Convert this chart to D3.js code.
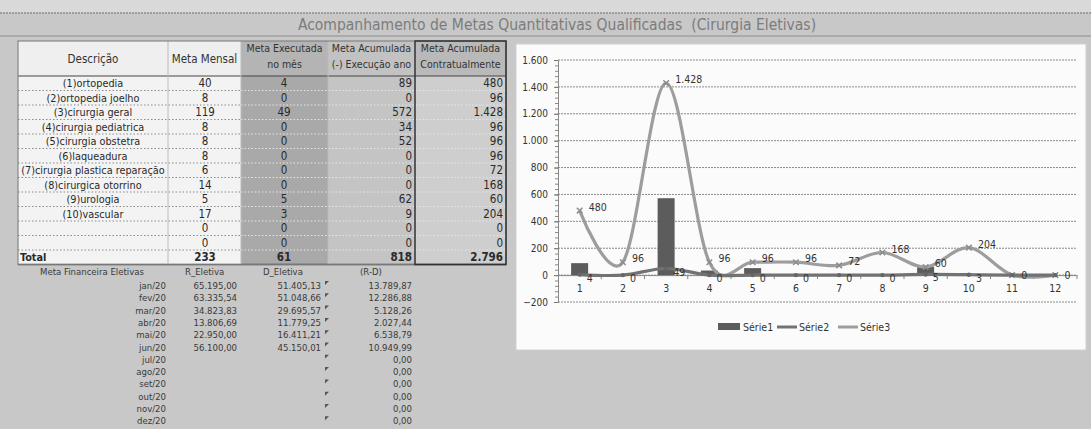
<!DOCTYPE html>
<html>
<head>
<meta charset="utf-8">
<script src="https://cdn.jsdelivr.net/npm/d3@7"></script>
<style>
  body { margin: 0; background: #c9c9c9; }
  svg { display: block; font-family: "DejaVu Sans Condensed", "Liberation Sans Narrow", sans-serif; }
</style>
</head>
<body>
<div id="my_dataviz"></div>
<script>
// table rows (cirurgias eletivas)
var descricao = ["(1)ortopedia", "(2)ortopedia joelho", "(3)cirurgia geral", "(4)cirurgia pediatrica",
  "(5)cirurgia obstetra", "(6)laqueadura", "(7)cirurgia plastica reparação", "(8)cirurgica otorrino",
  "(9)urologia", "(10)vascular", "", ""];
var metaMensal     = [40, 8, 119, 8, 8, 8, 6, 14, 5, 17, 0, 0];
var metaExecutada  = [4, 0, 49, 0, 0, 0, 0, 0, 5, 3, 0, 0];
var metaAcumExec   = [89, 0, 572, 34, 52, 0, 0, 0, 62, 9, 0, 0];
var metaContratual = [480, 96, 1428, 96, 96, 96, 72, 168, 60, 204, 0, 0];

// financial block
var meses     = ["jan/20", "fev/20", "mar/20", "abr/20", "mai/20", "jun/20",
                 "jul/20", "ago/20", "set/20", "out/20", "nov/20", "dez/20"];
var rEletiva  = [65195.00, 63335.54, 34823.83, 13806.69, 22950.00, 56100.00];
var dEletiva  = [51405.13, 51048.66, 29695.57, 11779.25, 16411.21, 45150.01];
var rMenosD   = [13789.87, 12286.88, 5128.26, 2027.44, 6538.79, 10949.99, 0, 0, 0, 0, 0, 0];

// chart
var categorias = d3.range(1, 13);
var yTicks = [-200, 0, 200, 400, 600, 800, 1000, 1200, 1400, 1600];
var legendas = ["Série1", "Série2", "Série3"];

var ptBR = d3.formatLocale({decimal: ",", thousands: ".", grouping: [3], currency: ["R$", ""]});
var fInt = ptBR.format(",d"), fDec = ptBR.format(",.2f");

var W = 1091, H = 429;
var svg = d3.select("#my_dataviz").append("svg")
  .attr("width", W).attr("height", H);

svg.append("rect").attr("width", W).attr("height", H).attr("fill", "#c8c8c8");
svg.append("rect").attr("width", W).attr("height", 13).attr("fill", "#d9d9d9");
svg.append("line").attr("x1", 0).attr("x2", W).attr("y1", 13).attr("y2", 13)
  .attr("stroke", "#8c8c8c").attr("stroke-width", 1.5).attr("stroke-dasharray", "2,1");
svg.append("line").attr("x1", 0).attr("x2", W).attr("y1", 36).attr("y2", 36)
  .attr("stroke", "#a0a0a0").attr("stroke-width", 1.5);

svg.append("text")
  .attr("x", 557).attr("y", 30)
  .attr("text-anchor", "middle")
  .attr("font-size", 15.5).attr("fill", "#7c7c7c")
  .attr("xml:space", "preserve")
  .text("Acompanhamento de Metas Quantitativas Qualificadas  (Cirurgia Eletivas)");

// ---------- table ----------
var cols = [
  {x: 18,  w: 150, fill: "#f3f3f3", head: "#efefef", h: ["Descrição"]},
  {x: 168, w: 73,  fill: "#f3f3f3", head: "#efefef", h: ["Meta Mensal"]},
  {x: 241, w: 87,  fill: "#a9a9a9", head: "#b4b4b4", h: ["Meta Executada", "no mês"]},
  {x: 328, w: 87,  fill: "#c4c4c4", head: "#c2c2c2", h: ["Meta Acumulada", "(-) Execução ano"]},
  {x: 415, w: 91,  fill: "#cecece", head: "#b9b9b9", h: ["Meta Acumulada", "Contratualmente"]}
];
var headTop = 41, bodyTop = 76, rowH = 14.5;
var nRows = descricao.length + 1;
var tableBottom = bodyTop + nRows * rowH;

var tbl = svg.append("g");
tbl.selectAll("rect.head").data(cols).enter().append("rect")
  .attr("x", function(d) { return d.x; }).attr("y", headTop)
  .attr("width", function(d) { return d.w; }).attr("height", bodyTop - headTop)
  .attr("fill", function(d) { return d.head; });
tbl.selectAll("rect.body").data(cols).enter().append("rect")
  .attr("x", function(d) { return d.x; }).attr("y", bodyTop)
  .attr("width", function(d) { return d.w; }).attr("height", tableBottom - bodyTop)
  .attr("fill", function(d) { return d.fill; });

// header texts
cols.forEach(function(c) {
  c.h.forEach(function(t, i) {
    tbl.append("text")
      .attr("x", c.x + c.w / 2)
      .attr("y", c.h.length == 1 ? 63 : 52 + i * 16)
      .attr("text-anchor", "middle")
      .attr("font-size", c.h.length == 1 ? 11.5 : 10.5)
      .attr("fill", "#333")
      .text(t);
  });
});

// row lines
for (var i = 1; i < nRows; i++) {
  var yy = bodyTop + i * rowH;
  tbl.append("line").attr("x1", 18).attr("x2", 241).attr("y1", yy).attr("y2", yy)
    .attr("stroke", "#8a8a8a").attr("stroke-dasharray", "1.5,2");
  tbl.append("line").attr("x1", 241).attr("x2", 506).attr("y1", yy).attr("y2", yy)
    .attr("stroke", "#e6e6e6").attr("stroke-dasharray", "1.5,2");
}
tbl.append("line").attr("x1", 18).attr("x2", 506).attr("y1", bodyTop).attr("y2", bodyTop)
  .attr("stroke", "#444").attr("stroke-width", 1.2);
tbl.append("line").attr("x1", 18).attr("x2", 506).attr("y1", tableBottom).attr("y2", tableBottom)
  .attr("stroke", "#444").attr("stroke-width", 1.5);
[168, 241, 328].forEach(function(x) {
  tbl.append("line").attr("x1", x).attr("x2", x).attr("y1", headTop).attr("y2", tableBottom)
    .attr("stroke", "#bbbbbb");
});
tbl.append("rect").attr("x", 18).attr("y", headTop).attr("width", 488).attr("height", tableBottom - headTop)
  .attr("fill", "none").attr("stroke", "#777");
tbl.append("rect").attr("x", 415).attr("y", headTop).attr("width", 91).attr("height", tableBottom - headTop)
  .attr("fill", "none").attr("stroke", "#333").attr("stroke-width", 1.5);

var rowsData = descricao.map(function(d, i) {
  return [d, metaMensal[i], metaExecutada[i], metaAcumExec[i], metaContratual[i]];
});
rowsData.push(["Total", d3.sum(metaMensal), d3.sum(metaExecutada), d3.sum(metaAcumExec), d3.sum(metaContratual)]);

var rowG = tbl.selectAll("g.row").data(rowsData).enter().append("g")
  .attr("transform", function(d, i) { return "translate(0," + (bodyTop + i * rowH + rowH / 2 + 4) + ")"; });
var anchors = ["middle", "middle", "middle", "end", "end"];
var tx = [93, 205, 284, 412, 503];
rowG.each(function(r, ri) {
  var g = d3.select(this);
  r.forEach(function(v, ci) {
    var last = ri == rowsData.length - 1;
    g.append("text")
      .attr("x", last && ci == 0 ? 20 : tx[ci])
      .attr("text-anchor", last && ci == 0 ? "start" : anchors[ci])
      .attr("font-size", ci == 0 ? 10.8 : 11.5)
      .attr("font-weight", last ? "bold" : "normal")
      .attr("fill", "#2a2a2a")
      .text(ci == 0 ? v : fInt(v));
  });
});

// ---------- financial block ----------
var fin = svg.append("g").attr("font-size", 9.5).attr("fill", "#3a3a3a");
var finHead = 275;
fin.append("text").attr("x", 92).attr("y", finHead).attr("text-anchor", "middle").text("Meta Financeira Eletivas");
fin.append("text").attr("x", 185).attr("y", finHead).text("R_Eletiva");
fin.append("text").attr("x", 263).attr("y", finHead).text("D_Eletiva");
fin.append("text").attr("x", 360).attr("y", finHead).text("(R-D)");

var finStep = 12.3, finTop = 289;
meses.forEach(function(m, i) {
  var yy = finTop + i * finStep;
  fin.append("text").attr("x", 166).attr("y", yy).attr("text-anchor", "end").text(m);
  if (i < rEletiva.length) {
    fin.append("text").attr("x", 237).attr("y", yy).attr("text-anchor", "end").text(fDec(rEletiva[i]));
    fin.append("text").attr("x", 321).attr("y", yy).attr("text-anchor", "end").text(fDec(dEletiva[i]));
  }
  fin.append("text").attr("x", 412).attr("y", yy).attr("text-anchor", "end").text(fDec(rMenosD[i]));
  fin.append("path").attr("d", "M" + 325 + "," + (yy - 8) + "h4l-4,4z").attr("fill", "#555");
});

// ---------- chart ----------
svg.append("rect").attr("x", 516).attr("y", 44).attr("width", 570).attr("height", 306)
  .attr("fill", "#fbfbfb").attr("stroke", "#d0d0d0");

var x = d3.scaleBand().domain(categorias).range([558, 1077]);
var y = d3.scaleLinear().domain([-200, 1600]).range([302, 60]);
var cx = function(d, i) { return x(categorias[i]) + x.bandwidth() / 2; };

svg.append("g").selectAll("line").data(yTicks).enter().append("line")
  .attr("x1", 558).attr("x2", 1077)
  .attr("y1", function(d) { return y(d); }).attr("y2", function(d) { return y(d); })
  .attr("stroke", "#8a8a8a").attr("stroke-dasharray", "2,1");

// minor ticks on y axis
svg.append("g").attr("transform", "translate(558,0)")
  .call(d3.axisLeft(y).tickValues(d3.range(-200, 1601, 40)).tickSize(3).tickFormat(""))
  .call(function(g) { g.selectAll("line,path").attr("stroke", "#888"); });
svg.append("g").attr("transform", "translate(558,0)")
  .call(d3.axisLeft(y).tickValues(yTicks).tickSize(4).tickPadding(6).tickFormat(fInt))
  .call(function(g) {
    g.select(".domain").remove();
    g.selectAll("line").attr("stroke", "#777");
    g.selectAll("text").attr("font-size", 10).attr("fill", "#333")
      .attr("font-family", "DejaVu Sans Condensed, sans-serif");
  });

// x axis at zero
svg.append("g").attr("transform", "translate(0," + y(0) + ")")
  .call(d3.axisBottom(x).tickSize(0).tickPadding(9))
  .call(function(g) {
    g.select(".domain").attr("stroke", "#888");
    g.selectAll("text").attr("font-size", 10.5).attr("fill", "#333")
      .attr("font-family", "DejaVu Sans Condensed, sans-serif");
  });
svg.append("g").selectAll("line").data(categorias).enter().append("line")
  .attr("x1", function(d) { return x(d) + x.bandwidth(); }).attr("x2", function(d) { return x(d) + x.bandwidth(); })
  .attr("y1", y(0)).attr("y2", y(0) + 4).attr("stroke", "#888");

// Série1 bars
var barW = 17;
svg.append("g").selectAll("rect").data(metaAcumExec).enter().append("rect")
  .attr("x", function(d, i) { return cx(d, i) - barW / 2; })
  .attr("y", function(d) { return y(Math.max(d, 0)); })
  .attr("width", barW)
  .attr("height", function(d) { return Math.abs(y(d) - y(0)); })
  .attr("fill", "#5c5c5c");

var line = d3.line().x(cx).y(function(d) { return y(d); }).curve(d3.curveCardinal.tension(0));

// Série3
svg.append("path").datum(metaContratual).attr("d", line)
  .attr("fill", "none").attr("stroke", "#9d9d9d").attr("stroke-width", 3.2);
svg.append("g").selectAll("path").data(metaContratual).enter().append("path")
  .attr("transform", function(d, i) { return "translate(" + cx(d, i) + "," + y(d) + ")"; })
  .attr("d", d3.symbol(d3.symbolX, 22)).attr("stroke", "#8d8d8d").attr("stroke-width", 1.5);

// Série2
svg.append("path").datum(metaExecutada).attr("d", line)
  .attr("fill", "none").attr("stroke", "#727272").attr("stroke-width", 3.2);
svg.append("g").selectAll("circle").data(metaExecutada).enter().append("circle")
  .attr("cx", cx).attr("cy", function(d) { return y(d); }).attr("r", 2.2).attr("fill", "#666");

// data labels (Série2 label hidden where it sits exactly on the Série3 one)
var lab = svg.append("g").attr("font-size", 10.5).attr("fill", "#333");
lab.selectAll("text.s3").data(metaContratual).enter().append("text")
  .attr("x", function(d, i) { return cx(d, i) + 9; })
  .attr("y", function(d, i) { return y(d) + (d === metaExecutada[i] ? 4 : 0); })
  .text(function(d) { return fInt(d); });
lab.selectAll("text.s2").data(metaExecutada).enter()
  .filter(function(d, i) { return d !== metaContratual[i]; })
  .append("text")
  .attr("x", function(d, i) { return cx(d, i) + 7; })
  .attr("y", function(d) { return y(d) + 7; })
  .text(function(d) { return fInt(d); });

// legend
var leg = svg.append("g").attr("font-size", 10.5).attr("fill", "#333");
var legX = [718, 777, 838];
legendas.forEach(function(s, i) {
  if (i == 0) {
    leg.append("rect").attr("x", legX[i]).attr("y", 323).attr("width", 22).attr("height", 7).attr("fill", "#5c5c5c");
  } else {
    leg.append("line").attr("x1", legX[i]).attr("x2", legX[i] + 20).attr("y1", 327).attr("y2", 327)
      .attr("stroke", i == 1 ? "#727272" : "#9d9d9d").attr("stroke-width", 3);
  }
  leg.append("text").attr("x", legX[i] + (i == 0 ? 25 : 22)).attr("y", 331).text(s);
});
</script>
</body>
</html>
